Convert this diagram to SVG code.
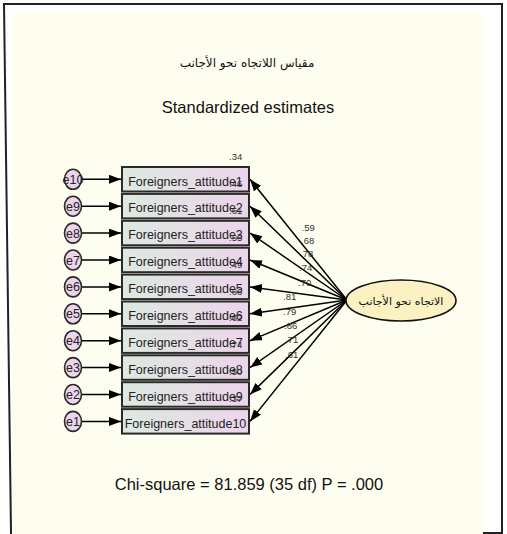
<svg xmlns="http://www.w3.org/2000/svg" width="507" height="534" viewBox="0 0 507 534">
<defs>
<linearGradient id="boxg" x1="0" y1="0" x2="1" y2="0">
<stop offset="0" stop-color="#dde9e1"/>
<stop offset="1" stop-color="#ecd5ea"/>
</linearGradient>
<marker id="ah" markerUnits="userSpaceOnUse" markerWidth="13" markerHeight="10" refX="12" refY="4.5" orient="auto">
<path d="M0,0 L12,4.5 L0,9 z" fill="#000"/>
</marker>
<style>
.box{fill:url(#boxg);stroke:#2a2a2a;stroke-width:2}
.err{fill:#ecd5ea;stroke:#2a2a2a;stroke-width:1.6}
.lat{fill:#fbf1c2;stroke:#111;stroke-width:1.6}
.bt{font-family:"Liberation Sans",Arial,sans-serif;font-size:12.5px;fill:#222;text-anchor:middle}
.et{font-family:"Liberation Sans",Arial,sans-serif;font-size:12.5px;fill:#222;text-anchor:middle}
.r2{font-family:"Liberation Sans",Arial,sans-serif;font-size:9.5px;fill:#333}
.ld{font-family:"Liberation Sans",Arial,sans-serif;font-size:9.5px;fill:#333}
.big{font-family:"Liberation Sans",Arial,sans-serif;font-size:16.5px;fill:#111;text-anchor:middle}
.ar{font-family:"DejaVu Sans","Noto Sans",sans-serif;fill:#111;text-anchor:middle}
.cn{stroke:#000;stroke-width:1.5;fill:none;marker-end:url(#ah)}
</style>
</defs>
<rect width="507" height="534" fill="#fff"/>
<path d="M4,4 H502 V533 H11 L4,4 Z" fill="none" stroke="#222" stroke-width="2"/>
<rect x="12" y="13" width="471" height="521" fill="#fefef0"/>
<text class="ar" x="247" y="67" font-size="12">مقياس اللاتجاه نحو الأجانب</text>
<text class="big" x="248" y="113">Standardized estimates</text>
<text class="big" x="249" y="490">Chi-square = 81.859 (35 df) P = .000</text>
<g id="connectors">
<line class="cn" x1="82" y1="179.3" x2="121" y2="179.3"/>
<line class="cn" x1="82" y1="206.2" x2="121" y2="206.2"/>
<line class="cn" x1="82" y1="233.1" x2="121" y2="233.1"/>
<line class="cn" x1="82" y1="260" x2="121" y2="260"/>
<line class="cn" x1="82" y1="286.9" x2="121" y2="286.9"/>
<line class="cn" x1="82" y1="313.8" x2="121" y2="313.8"/>
<line class="cn" x1="82" y1="340.7" x2="121" y2="340.7"/>
<line class="cn" x1="82" y1="367.6" x2="121" y2="367.6"/>
<line class="cn" x1="82" y1="394.5" x2="121" y2="394.5"/>
<line class="cn" x1="82" y1="421.4" x2="121" y2="421.4"/>
<line class="cn" x1="347" y1="300" x2="250" y2="179.3"/>
<line class="cn" x1="347" y1="300" x2="250" y2="206.2"/>
<line class="cn" x1="347" y1="300" x2="250" y2="233.1"/>
<line class="cn" x1="347" y1="300" x2="250" y2="260"/>
<line class="cn" x1="347" y1="300" x2="250" y2="286.9"/>
<line class="cn" x1="347" y1="300" x2="250" y2="313.8"/>
<line class="cn" x1="347" y1="300" x2="250" y2="340.7"/>
<line class="cn" x1="347" y1="300" x2="250" y2="367.6"/>
<line class="cn" x1="347" y1="300" x2="250" y2="394.5"/>
<line class="cn" x1="347" y1="300" x2="250" y2="421.4"/>
<text class="ld" x="301.5" y="231">.59</text>
<text class="ld" x="301" y="244">.68</text>
<text class="ld" x="300" y="257">.78</text>
<text class="ld" x="299" y="271">.74</text>
<text class="ld" x="298" y="286">.70</text>
<text class="ld" x="283" y="300">.81</text>
<text class="ld" x="283" y="315">.79</text>
<text class="ld" x="284" y="329">.86</text>
<text class="ld" x="285" y="343">.71</text>
<text class="ld" x="285" y="358">.61</text>
</g>
<g id="lat"><ellipse class="lat" cx="401" cy="300.5" rx="55" ry="20.5"/><text class="ar" x="401" y="305" font-size="11">الاتجاه نحو الأجانب</text></g>
<g id="e10"><ellipse class="err" cx="73" cy="179.3" rx="8.5" ry="10"/><text class="et" x="73" y="183.8">e10</text></g>
<g id="e9"><ellipse class="err" cx="73" cy="206.2" rx="8.5" ry="10"/><text class="et" x="73" y="210.7">e9</text></g>
<g id="e8"><ellipse class="err" cx="73" cy="233.1" rx="8.5" ry="10"/><text class="et" x="73" y="237.6">e8</text></g>
<g id="e7"><ellipse class="err" cx="73" cy="260" rx="8.5" ry="10"/><text class="et" x="73" y="264.5">e7</text></g>
<g id="e6"><ellipse class="err" cx="73" cy="286.9" rx="8.5" ry="10"/><text class="et" x="73" y="291.4">e6</text></g>
<g id="e5"><ellipse class="err" cx="73" cy="313.8" rx="8.5" ry="10"/><text class="et" x="73" y="318.3">e5</text></g>
<g id="e4"><ellipse class="err" cx="73" cy="340.7" rx="8.5" ry="10"/><text class="et" x="73" y="345.2">e4</text></g>
<g id="e3"><ellipse class="err" cx="73" cy="367.6" rx="8.5" ry="10"/><text class="et" x="73" y="372.1">e3</text></g>
<g id="e2"><ellipse class="err" cx="73" cy="394.5" rx="8.5" ry="10"/><text class="et" x="73" y="399">e2</text></g>
<g id="e1"><ellipse class="err" cx="73" cy="421.4" rx="8.5" ry="10"/><text class="et" x="73" y="425.9">e1</text></g>
<g id="fa1"><rect class="box" x="122" y="167" width="127" height="24.5"/><text class="bt" x="185.5" y="185.5">Foreigners_attitude1</text><text class="r2" x="229" y="160">.34</text></g>
<g id="fa2"><rect class="box" x="122" y="193.9" width="127" height="24.5"/><text class="bt" x="185.5" y="212.4">Foreigners_attitude2</text><text class="r2" x="229" y="186.9">.46</text></g>
<g id="fa3"><rect class="box" x="122" y="220.8" width="127" height="24.5"/><text class="bt" x="185.5" y="239.3">Foreigners_attitude3</text><text class="r2" x="229" y="213.8">.61</text></g>
<g id="fa4"><rect class="box" x="122" y="247.7" width="127" height="24.5"/><text class="bt" x="185.5" y="266.2">Foreigners_attitude4</text><text class="r2" x="229" y="240.7">.55</text></g>
<g id="fa5"><rect class="box" x="122" y="274.6" width="127" height="24.5"/><text class="bt" x="185.5" y="293.1">Foreigners_attitude5</text><text class="r2" x="229" y="267.6">.49</text></g>
<g id="fa6"><rect class="box" x="122" y="301.5" width="127" height="24.5"/><text class="bt" x="185.5" y="320">Foreigners_attitude6</text><text class="r2" x="229" y="294.5">.66</text></g>
<g id="fa7"><rect class="box" x="122" y="328.4" width="127" height="24.5"/><text class="bt" x="185.5" y="346.9">Foreigners_attitude7</text><text class="r2" x="229" y="321.4">.62</text></g>
<g id="fa8"><rect class="box" x="122" y="355.3" width="127" height="24.5"/><text class="bt" x="185.5" y="373.8">Foreigners_attitude8</text><text class="r2" x="229" y="348.3">.74</text></g>
<g id="fa9"><rect class="box" x="122" y="382.2" width="127" height="24.5"/><text class="bt" x="185.5" y="400.7">Foreigners_attitude9</text><text class="r2" x="229" y="375.2">.50</text></g>
<g id="fa10"><rect class="box" x="122" y="409.1" width="127" height="24.5"/><text class="bt" x="185.5" y="427.6">Foreigners_attitude10</text><text class="r2" x="229" y="402.1">.37</text></g>
</svg>
